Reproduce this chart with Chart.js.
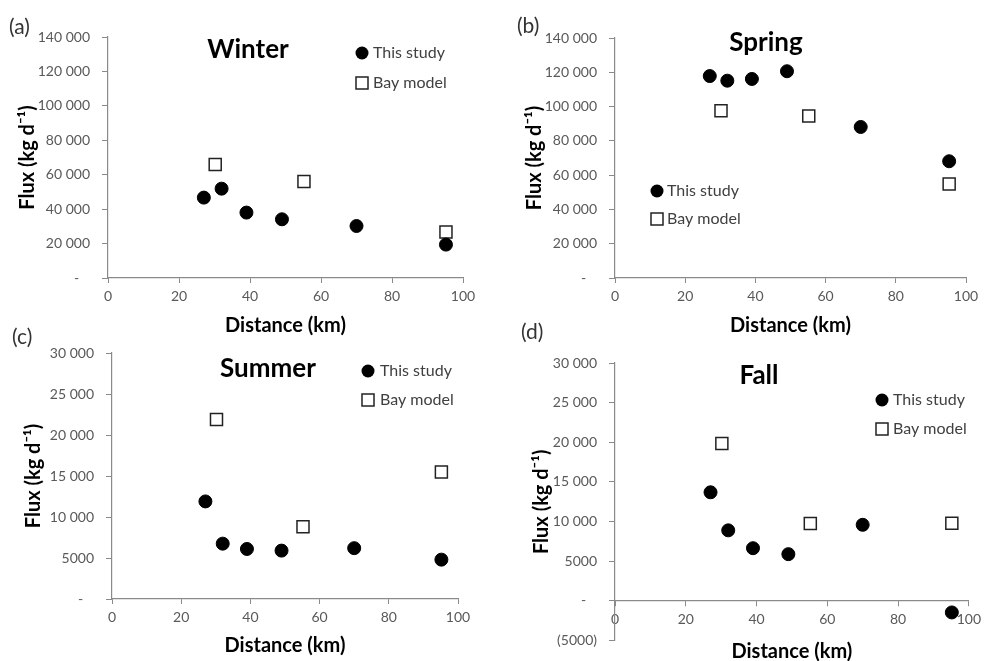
<!DOCTYPE html>
<html>
<head>
<meta charset="utf-8">
<script src="https://cdn.jsdelivr.net/npm/chart.js@4"></script>
<style>
  body { margin: 0; background: #fff; }
  #wrap { position: relative; width: 986px; height: 661px; overflow: hidden; }
  canvas { position: absolute; }
</style>
</head>
<body>
<div id="wrap">
  <canvas id="chartA"></canvas>
  <canvas id="chartB"></canvas>
  <canvas id="chartC"></canvas>
  <canvas id="chartD"></canvas>
</div>
<script>
// distances (km) of the sampling stations
const distStudy = [27, 32, 39, 49, 70, 95.2];
const distBay = [30.2, 55.2, 95.2];

// flux (kg d-1)
const winterStudy = [46700, 51900, 38000, 34100, 30200, 19400];
const winterBay = [66000, 56000, 26700];
const springStudy = [117800, 115100, 116100, 120600, 88100, 68100];
const springBay = [97600, 94500, 54800];
const summerStudy = [11900, 6750, 6100, 5900, 6200, 4800];
const summerBay = [21900, 8800, 15500];
const fallStudy = [13700, 8900, 6650, 5900, 9600, -1450];
const fallBay = [19850, 9750, 9800];

const seriesNames = ['This study', 'Bay model'];

Chart.defaults.font.family = 'Lato, "Open Sans", sans-serif';

// excel-like accounting labels: 140 000, 5000, -, (5000)
function fluxLabel(v) {
  if (v === 0) return '-   ';
  const a = Math.abs(v);
  let s = a >= 10000 ? String(a).replace(/\B(?=(\d{3})+(?!\d))/g, ' ') : String(a);
  return v < 0 ? '(' + s + ')' : s;
}

const panelText = {
  id: 'panelText',
  afterDraw(chart, args, o) {
    const ctx = chart.ctx;
    ctx.save();
    ctx.textBaseline = 'middle';
    ctx.fillStyle = '#333';
    ctx.textAlign = 'left';
    ctx.font = '21px Lato, sans-serif';
    ctx.fillText(o.label, o.labelX, o.labelY);

    ctx.fillStyle = '#000';
    ctx.textAlign = 'center';
    ctx.font = 'bold 26px Lato, sans-serif';
    ctx.fillText(o.season, o.seasonX, o.seasonY);

    ctx.font = '16px Lato, sans-serif';
    ctx.textAlign = 'left';
    chart.data.datasets.forEach((ds, i) => {
      const x = o.legendX, y = o.legendY + i * o.legendGap;
      ctx.lineWidth = ds.borderWidth;
      ctx.strokeStyle = ds.borderColor;
      ctx.fillStyle = ds.backgroundColor;
      if (ds.pointStyle === 'rect') {
        ctx.fillRect(x - 6, y - 6, 12, 12);
        ctx.strokeRect(x - 6, y - 6, 12, 12);
      } else {
        ctx.beginPath();
        ctx.arc(x, y, 6.5, 0, Math.PI * 2);
        ctx.fill();
      }
      ctx.fillStyle = '#404040';
      ctx.fillText(ds.label, x + o.textGap, y);
    });
    ctx.restore();
  }
};

function makePanel(id, box, area, study, bay, yr, titles, text) {
  const cv = document.getElementById(id);
  cv.width = box.w; cv.height = box.h;
  cv.style.left = box.x + 'px';
  cv.style.top = box.y + 'px';

  const axisColor = '#8a8a8a';
  const tickFont = { size: 14 };
  const titleFont = { size: 20, weight: 'bold' };

  return new Chart(cv, {
    type: 'scatter',
    data: {
      datasets: [
        {
          label: seriesNames[0],
          data: distStudy.map((d, i) => ({ x: d, y: study[i] })),
          pointStyle: 'circle',
          pointRadius: 6.5,
          backgroundColor: '#000',
          borderColor: '#000',
          borderWidth: 1
        },
        {
          label: seriesNames[1],
          data: distBay.map((d, i) => ({ x: d, y: bay[i] })),
          pointStyle: 'rect',
          pointRadius: 8.5,
          backgroundColor: '#fff',
          borderColor: '#222',
          borderWidth: 1.5
        }
      ]
    },
    options: {
      responsive: false,
      animation: false,
      layout: { padding: { left: 0, top: area.top, right: box.w - area.right, bottom: 0 } },
      plugins: {
        legend: { display: false },
        tooltip: { enabled: false },
        panelText: text
      },
      scales: {
        x: {
          type: 'linear',
          position: yr.min < 0 ? { y: 0 } : 'bottom',
          min: 0, max: 100,
          ticks: { stepSize: 20, color: '#595959', font: tickFont, padding: 5, maxRotation: 0 },
          grid: { drawOnChartArea: false, tickLength: 5, color: axisColor },
          border: { color: axisColor, width: 1.2 },
          title: { display: true, text: 'Distance (km)', color: '#000', font: titleFont,
                   padding: { top: 0, bottom: titles.xPad } },
          afterFit: s => { s.height = box.h - area.bottom; }
        },
        y: {
          type: 'linear',
          min: yr.min, max: yr.max,
          ticks: { stepSize: yr.step, color: '#595959', font: tickFont, padding: 12, callback: fluxLabel },
          grid: { drawOnChartArea: false, tickLength: 6, color: axisColor },
          border: { color: axisColor, width: 1.2 },
          title: { display: true, text: 'Flux (kg d⁻¹)', color: '#000', font: titleFont,
                   padding: { top: titles.yPad, bottom: 0 } },
          afterFit: s => { s.width = area.left; }
        }
      }
    },
    plugins: [panelText]
  });
}

makePanel('chartA', { x: 0, y: 0, w: 490, h: 340 },
  { left: 108, top: 37, right: 463, bottom: 278 },
  winterStudy, winterBay, { min: 0, max: 140000, step: 20000 },
  { xPad: 2, yPad: 16 },
  { label: '(a)', labelX: 9, labelY: 27, season: 'Winter', seasonX: 248, seasonY: 50,
    legendX: 362, legendY: 53, legendGap: 30, textGap: 11 });

makePanel('chartB', { x: 490, y: 0, w: 496, h: 340 },
  { left: 125, top: 38, right: 476, bottom: 278 },
  springStudy, springBay, { min: 0, max: 140000, step: 20000 },
  { xPad: 2, yPad: 33 },
  { label: '(b)', labelX: 27, labelY: 26, season: 'Spring', seasonX: 276, seasonY: 43,
    legendX: 167, legendY: 191, legendGap: 28, textGap: 10 });

makePanel('chartC', { x: 0, y: 315, w: 490, h: 346 },
  { left: 112, top: 38, right: 458, bottom: 284 },
  summerStudy, summerBay, { min: 0, max: 30000, step: 5000 },
  { xPad: 3, yPad: 22 },
  { label: '(c)', labelX: 12, labelY: 22, season: 'Summer', seasonX: 268, seasonY: 54,
    legendX: 368, legendY: 56, legendGap: 29, textGap: 12 });

makePanel('chartD', { x: 490, y: 315, w: 496, h: 346 },
  { left: 125, top: 48, right: 481, bottom: 318 },
  fallStudy, fallBay, { min: -5000, max: 30000, step: 5000 },
  { xPad: -35, yPad: 40 },
  { label: '(d)', labelX: 31, labelY: 17, season: 'Fall', seasonX: 269, seasonY: 61,
    legendX: 392, legendY: 85, legendGap: 29, textGap: 11 });
</script>
</body>
</html>
